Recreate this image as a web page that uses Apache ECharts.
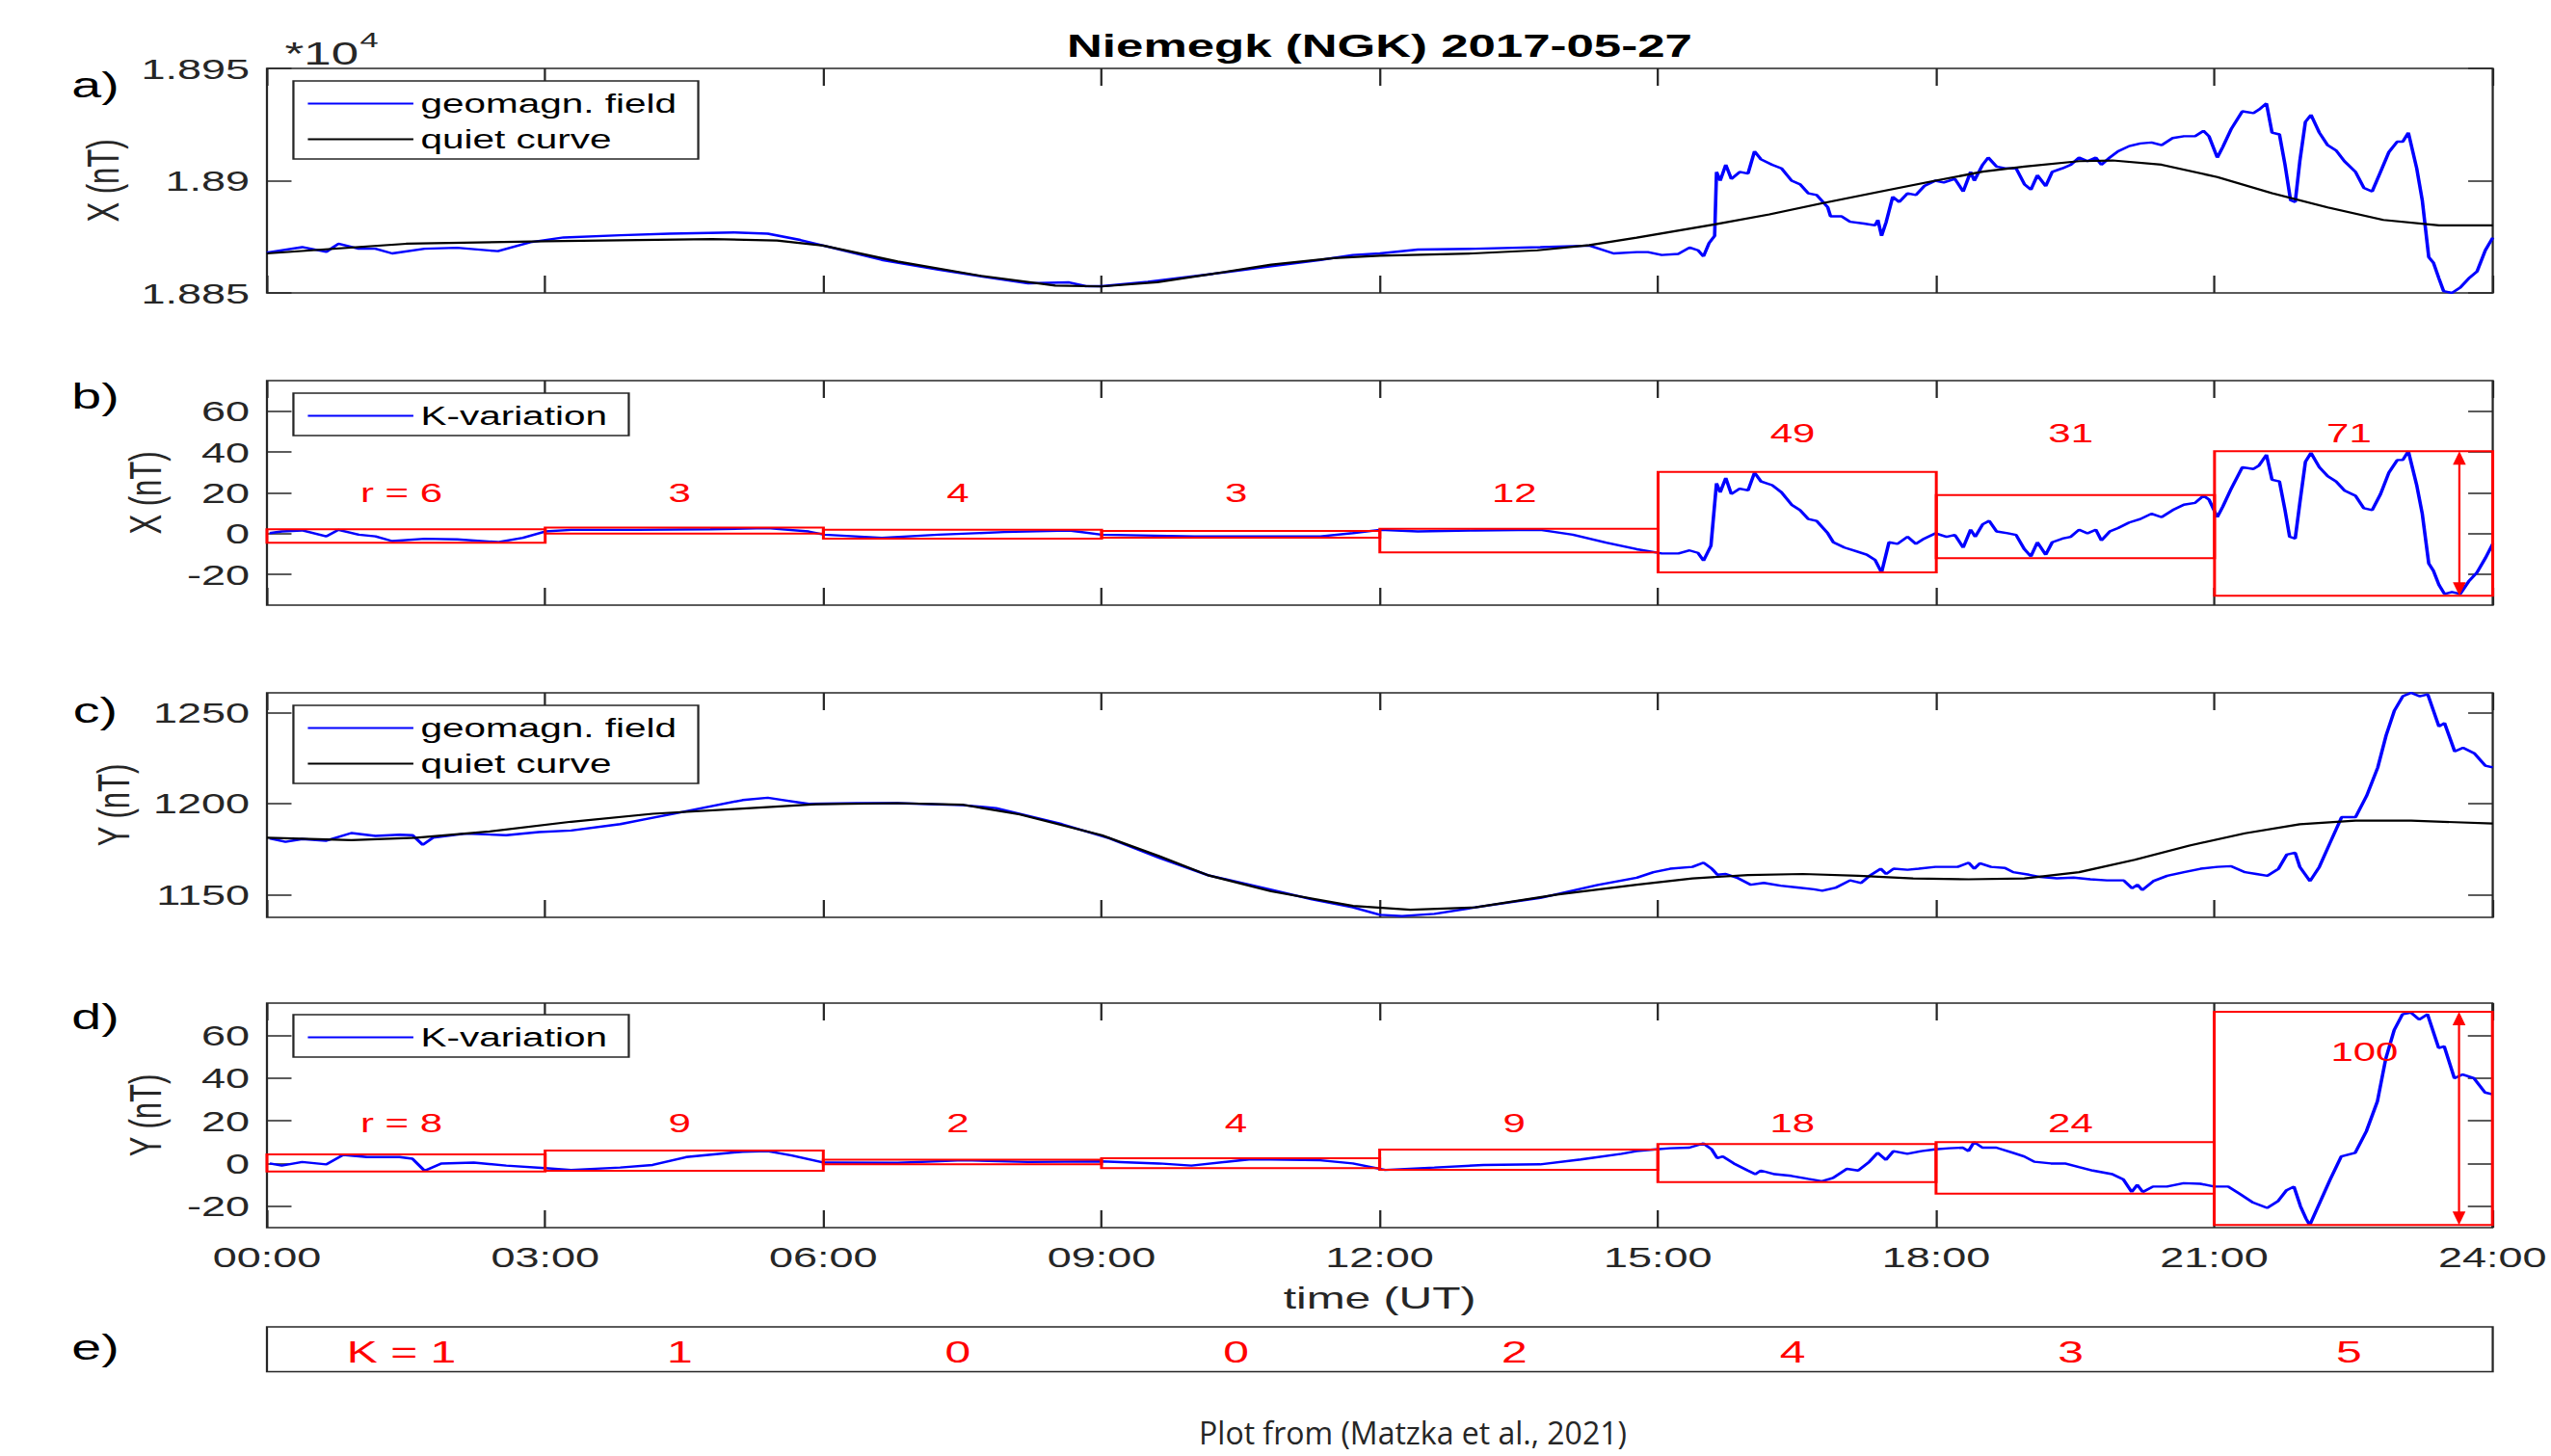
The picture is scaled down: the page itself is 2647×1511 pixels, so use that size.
<!DOCTYPE html>
<html>
<head>
<meta charset="utf-8">
<title>Niemegk (NGK) 2017-05-27</title>
<script src="https://cdn.jsdelivr.net/npm/echarts@6.0.0/dist/echarts.min.js"></script>
<style>
  html, body { margin:0; padding:0; background:#fff; width:2647px; height:1511px; overflow:hidden; }
  #chart { position:absolute; left:0; top:0; width:1765px; height:1511px; transform-origin:0 0; }
</style>
</head>
<body>
<div id="chart"></div>
<script>
// ---------------- DATA ----------------
const timeTickLabels = ['00:00','03:00','06:00','09:00','12:00','15:00','18:00','21:00','24:00'];
const xFieldTicks = [18850, 18900, 18950];          // shown as 1.885 / 1.89 / 1.895 (*10^4)
const kVarTicks = [-20, 0, 20, 40, 60];
const yFieldTicks = [1150, 1200, 1250];
const intervalStart = [0, 3, 6, 9, 12, 15, 18, 21];

// a) X component: geomagnetic field [hour, nT]
const xField = [[0,18868.0],[0.38,18870.4],[0.64,18868.3],[0.77,18871.9],[0.99,18869.7],[1.17,18869.7],[1.35,18867.6],[1.70,18869.7],[2.05,18870.1],[2.49,18868.6],[2.84,18872.6],[3.20,18874.7],[3.81,18875.7],[4.34,18876.4],[5.04,18876.9],[5.40,18876.4],[5.75,18873.6],[6.01,18871.0],[6.63,18864.7],[7.24,18860.4],[7.77,18856.9],[8.21,18854.3],[8.65,18854.7],[8.83,18853.0],[9.00,18853.0],[9.50,18855.0],[10.20,18858.5],[10.83,18861.9],[11.36,18864.7],[11.71,18866.9],[12.00,18867.6],[12.41,18869.3],[13.03,18869.7],[13.73,18870.4],[14.26,18871.1],[14.52,18867.6],
  [14.77,18868.2],[14.89,18868.2],[15.04,18866.9],[15.22,18867.4],[15.34,18870.2],[15.43,18869.0],[15.49,18866.3],[15.55,18872.2],[15.61,18875.4],[15.63,18903.9],[15.67,18900.0],[15.73,18907.1],[15.79,18900.8],[15.88,18903.9],[15.97,18903.2],[16.04,18913.1],[16.11,18909.5],[16.23,18907.1],[16.33,18905.5],[16.44,18900.0],[16.53,18898.4],[16.62,18894.4],[16.71,18893.6],[16.83,18888.1],[16.86,18884.1],[16.98,18884.1],[17.07,18881.7],[17.22,18880.9],[17.34,18880.1],[17.37,18882.5],[17.41,18875.4],[17.46,18881.7],[17.53,18892.8],[17.60,18890.5],[17.69,18894.4],[17.78,18893.6],[17.87,18897.6],[17.99,18900.0],[18.08,18899.2],[18.20,18900.8],[18.29,18895.2],[18.37,18903.9],[18.41,18900.0],[18.50,18907.1],[18.56,18910.3],[18.65,18906.3],[18.74,18905.5],[18.86,18905.5],[18.95,18898.4],[19.02,18896.0],[19.09,18902.4],[19.18,18897.6],[19.25,18903.9],[19.36,18905.5],[19.45,18907.1],[19.54,18910.3],[19.63,18908.7],[19.72,18910.3],[19.78,18907.1],[19.87,18910.3],[19.96,18913.1],[20.08,18915.4],[20.20,18916.6],[20.32,18917.0],[20.43,18915.8],[20.55,18919.0],[20.67,18919.8],[20.79,18919.8],[20.88,18922.2],[20.94,18919.8],[21.03,18910.3],[21.09,18915.1],[21.18,18923.0],[21.30,18930.9],[21.42,18930.1],[21.48,18931.7],[21.56,18934.4],[21.62,18921.4],[21.70,18920.6],[21.76,18907.1],[21.82,18891.3],[21.87,18890.5],[21.92,18908.7],[21.98,18926.2],[22.04,18929.3],[22.13,18921.4],[22.22,18915.8],[22.31,18913.5],[22.40,18908.7],[22.52,18903.9],[22.61,18896.8],[22.70,18895.2],[22.79,18903.9],[22.88,18912.7],[22.97,18917.4],[23.03,18917.4],[23.09,18921.4],[23.18,18905.5],[23.24,18891.3],[23.31,18865.9],[23.36,18863.5],[23.42,18856.4],[23.47,18850.8],[23.56,18850.0],[23.65,18852.4],[23.74,18856.4],[23.83,18859.5],[23.92,18869.0],[24.00,18874.6]];
// a) X component: quiet curve
const xQuiet = [[0,18867.6],[1.5,18871.9],[3,18873.0],[4.8,18874.0],[5.5,18873.3],[6,18871.1],[6.8,18864.0],[7.7,18857.6],[8.5,18853.3],[9,18852.9],[9.6,18854.8],[10.2,18858.5],[10.83,18862.6],[11.5,18865.5],[12,18866.6],[13,18867.6],[13.7,18869.0],[14.26,18871.3],[14.77,18874.6],[15.61,18880.5],[16.2,18885.0],[16.74,18889.7],[17.4,18895.2],[17.99,18900.0],[18.5,18904.0],[18.95,18906.3],[19.54,18908.7],[19.90,18909.0],[20.43,18907.1],[21.03,18901.6],[21.62,18894.4],[22.22,18888.1],[22.82,18882.5],[23.42,18880.1],[24,18880.1]];

// b) X K-variation [hour, nT]
const xKvar = [[0.03,0.3],[0.16,1.1],[0.38,1.6],[0.64,-1.3],[0.77,1.9],[0.99,-0.5],[1.17,-1.3],[1.35,-3.6],[1.70,-2.5],[2.05,-2.8],[2.49,-4.1],[2.76,-2.0],[3.0,1.1],[3.28,1.9],[3.99,1.9],[4.78,2.2],[5.40,2.7],[5.84,1.1],[6.01,-0.5],[6.63,-2.0],[7.24,-0.5],[7.95,0.8],[8.65,1.6],[9.0,-0.5],[10.0,-1.3],[10.83,-1.3],[11.36,-1.3],[11.71,0.3],[12.0,1.9],[12.41,1.1],[13.03,1.6],[13.73,1.9],[14.08,-0.5],[14.44,-4.4],
  [14.77,-7.6],[14.89,-8.5],[15.04,-9.7],[15.22,-9.7],[15.34,-8.2],[15.43,-9.4],[15.49,-13.2],[15.57,-5.9],[15.63,24.7],[15.67,20.3],[15.73,27.3],[15.79,19.4],[15.88,22.1],[15.97,21.2],[16.04,29.9],[16.11,25.6],[16.23,23.8],[16.33,20.3],[16.44,14.2],[16.53,11.6],[16.62,7.2],[16.71,6.3],[16.83,0.2],[16.89,-4.2],[17.01,-6.8],[17.13,-8.5],[17.25,-10.3],[17.34,-12.9],[17.41,-19.0],[17.49,-4.2],[17.58,-5.0],[17.69,-1.5],[17.78,-5.0],[17.87,-2.4],[17.99,0.2],[18.11,-1.5],[18.20,-0.6],[18.29,-6.8],[18.37,2.0],[18.42,-1.5],[18.50,4.6],[18.57,6.3],[18.65,1.1],[18.77,0.2],[18.86,-0.6],[18.95,-7.6],[19.02,-11.1],[19.09,-4.2],[19.18,-10.3],[19.25,-4.2],[19.36,-2.4],[19.45,-1.5],[19.54,2.0],[19.63,0.2],[19.72,2.0],[19.78,-3.3],[19.87,1.1],[19.96,2.8],[20.08,5.5],[20.20,7.2],[20.32,9.8],[20.43,8.1],[20.55,11.6],[20.67,14.2],[20.79,15.1],[20.88,18.6],[20.94,16.8],[21.03,8.1],[21.09,13.3],[21.18,22.1],[21.30,32.6],[21.42,31.7],[21.48,33.4],[21.56,38.7],[21.62,26.4],[21.70,25.6],[21.76,11.6],[21.81,-1.5],[21.87,-2.4],[21.92,15.1],[21.98,35.2],[22.04,39.6],[22.13,32.6],[22.22,28.2],[22.31,25.6],[22.40,21.2],[22.52,18.6],[22.61,12.5],[22.70,11.6],[22.79,19.4],[22.88,29.9],[22.97,36.1],[23.03,36.1],[23.09,40.4],[23.18,23.8],[23.24,9.8],[23.31,-14.6],[23.36,-18.1],[23.42,-25.1],[23.48,-29.5],[23.56,-28.6],[23.65,-29.5],[23.74,-23.4],[23.83,-19.0],[23.92,-12.0],[24.0,-5.0]];
const xBoxMin = [-4.4, 0.0, -2.4, -2.0, -9.1, -19.0, -12.0, -30.4];
const xBoxMax = [2.2, 3.0, 1.9, 1.4, 2.4, 30.3, 18.9, 40.4];
const xRange = [6, 3, 4, 3, 12, 49, 31, 71];

// c) Y component: geomagnetic field [hour, nT]
const yField = [[0.03,1180.8],[0.20,1179.0],[0.38,1180.5],[0.64,1179.6],[0.91,1183.8],[1.17,1182.2],[1.43,1182.9],[1.57,1182.6],[1.68,1177.3],[1.79,1181.2],[2.14,1183.5],[2.58,1182.6],[2.93,1184.3],[3.28,1185.2],[3.81,1188.7],[4.08,1191.4],[4.43,1194.9],[4.78,1198.4],[5.13,1201.9],[5.40,1203.2],[5.57,1201.9],[5.84,1199.8],[6.36,1200.2],[6.80,1200.2],[7.51,1199.1],[7.86,1197.5],[8.57,1188.7],[9.09,1180.8],[9.62,1170.2],[10.15,1160.6],[10.83,1152.6],[11.27,1147.4],[11.71,1143.0],[12.0,1138.9],[12.24,1138.2],[12.59,1139.4],[13.03,1143.0],[13.73,1148.2],[14.35,1155.3],
  [14.77,1159.3],[14.95,1162.3],[15.13,1164.2],[15.37,1165.2],[15.49,1167.5],[15.58,1164.2],[15.64,1160.9],[15.73,1161.3],[15.85,1159.3],[16.00,1155.4],[16.14,1156.4],[16.32,1154.9],[16.50,1153.9],[16.68,1152.9],[16.77,1152.1],[16.92,1153.9],[17.07,1157.8],[17.19,1156.4],[17.28,1160.3],[17.40,1164.2],[17.46,1161.3],[17.54,1164.2],[17.69,1163.6],[17.81,1164.2],[17.99,1165.2],[18.23,1165.2],[18.35,1167.5],[18.41,1164.2],[18.47,1167.2],[18.59,1165.2],[18.74,1164.6],[18.83,1162.3],[19.00,1160.9],[19.12,1159.7],[19.30,1158.9],[19.48,1159.3],[19.66,1158.4],[19.84,1157.8],[20.02,1157.8],[20.11,1153.5],[20.17,1155.4],[20.22,1152.5],[20.34,1157.4],[20.49,1160.3],[20.67,1162.3],[20.85,1164.2],[21.03,1165.2],[21.18,1165.6],[21.33,1162.3],[21.45,1161.3],[21.57,1160.3],[21.69,1164.2],[21.78,1172.0],[21.87,1173.0],[21.92,1165.2],[22.03,1157.4],[22.13,1165.2],[22.25,1178.9],[22.37,1192.5],[22.52,1192.5],[22.64,1204.2],[22.76,1219.8],[22.85,1237.4],[22.94,1251.1],[23.03,1258.9],[23.12,1260.8],[23.21,1258.9],[23.30,1259.9],[23.42,1242.3],[23.48,1244.2],[23.59,1228.6],[23.68,1230.6],[23.80,1227.6],[23.92,1220.8],[24.0,1219.8]];
// c) Y component: quiet curve
const yQuiet = [[0,1181.2],[0.91,1179.9],[1.61,1181.2],[2.40,1184.7],[3.28,1190.0],[4.16,1194.4],[5.04,1197.0],[5.92,1199.6],[6.80,1200.2],[7.51,1199.3],[8.12,1194.0],[9.0,1182.6],[9.62,1171.1],[10.15,1160.6],[10.83,1151.8],[11.71,1143.8],[12.33,1141.7],[13.03,1143.0],[13.91,1150.0],[14.77,1155.4],[15.37,1158.9],[15.97,1160.7],[16.56,1161.3],[17.16,1160.3],[17.75,1158.9],[18.35,1158.4],[18.95,1158.9],[19.54,1162.3],[20.14,1169.1],[20.73,1176.9],[21.33,1183.7],[21.92,1188.6],[22.52,1190.6],[23.12,1190.6],[24.0,1189.0]];

// d) Y K-variation [hour, nT]
const yKvar = [[0.03,0.0],[0.16,-1.0],[0.38,0.7],[0.64,-0.4],[0.82,4.0],[1.08,3.0],[1.43,3.0],[1.57,2.2],[1.70,-3.4],[1.88,0.0],[2.23,0.4],[2.58,-1.0],[3.0,-2.2],[3.28,-3.0],[3.81,-1.9],[4.16,-0.7],[4.52,3.0],[4.87,4.5],[5.13,5.5],[5.40,5.8],[5.66,3.7],[6.01,0.4],[6.80,0.3],[7.51,1.5],[8.21,0.7],[9.0,1.0],[9.62,0.0],[9.97,-1.0],[10.59,1.9],[10.83,1.9],[11.36,1.5],[11.71,0.0],[12.06,-3.0],[12.59,-1.9],[13.12,-0.7],[13.73,-0.4],[14.17,1.9],[14.61,4.5],
  [14.77,5.8],[14.98,6.6],[15.13,7.1],[15.34,7.4],[15.49,9.4],[15.58,6.6],[15.64,2.5],[15.70,3.3],[15.82,0.0],[15.97,-3.3],[16.05,-5.0],[16.11,-3.3],[16.26,-5.0],[16.44,-5.8],[16.62,-7.2],[16.77,-8.3],[16.89,-6.7],[17.04,-2.5],[17.16,-3.3],[17.28,0.8],[17.37,5.0],[17.46,1.7],[17.54,5.8],[17.69,4.5],[17.84,5.8],[17.99,6.6],[18.14,7.1],[18.29,7.4],[18.35,5.8],[18.41,10.0],[18.50,7.4],[18.65,7.4],[18.83,5.0],[18.95,3.3],[19.06,0.8],[19.24,0.0],[19.39,0.0],[19.54,-1.7],[19.69,-3.3],[19.90,-5.0],[20.02,-7.5],[20.11,-13.3],[20.17,-10.0],[20.23,-13.3],[20.34,-10.8],[20.49,-10.8],[20.67,-9.2],[20.85,-9.5],[21.00,-10.8],[21.15,-10.8],[21.27,-14.1],[21.42,-18.3],[21.57,-20.8],[21.69,-17.5],[21.78,-12.5],[21.86,-10.8],[21.93,-20.0],[21.99,-25.8],[22.03,-28.8],[22.13,-19.1],[22.25,-7.5],[22.37,3.3],[22.52,5.0],[22.64,15.0],[22.76,29.1],[22.85,49.0],[22.94,62.3],[23.03,69.8],[23.12,70.6],[23.21,67.3],[23.30,69.8],[23.42,54.0],[23.48,54.8],[23.59,39.9],[23.68,41.6],[23.80,39.9],[23.92,33.2],[24.0,32.4]];
const yBoxMin = [-3.7, -3.4, -0.4, -2.2, -3.0, -8.7, -14.1, -28.8];
const yBoxMax = [4.2, 6.0, 1.8, 2.5, 6.5, 9.1, 10.0, 70.9];
const yRange = [8, 9, 2, 4, 9, 18, 24, 100];

// e) K index per 3-hour interval
const kIndex = [1, 1, 0, 0, 2, 4, 3, 5];

// ---------------- LAYOUT ----------------
const S = 2647 / 1765;                 // horizontal stretch of the original figure
document.getElementById('chart').style.transform = 'scaleX(' + S + ')';
const AX = '#262626';
const FONT = '"Liberation Sans", Arial, Helvetica, sans-serif';
const L = 184.7, W = 1540;
const gridTops = [71, 395, 719, 1041, 1377];
const gridH = [233, 233, 233, 233, 46.6];
const yLim = [[18850, 18950], [-35, 75], [1137.5, 1260.8], [-30, 75], [0, 1]];
const yTickVals = [xFieldTicks, kVarTicks, yFieldTicks, kVarTicks, []];
const yNames = ['X (nT)', 'X (nT)', 'Y (nT)', 'Y (nT)', ''];
const yNameGap = [98, 69, 91, 69, 0];

const grids = [], xAxes = [], yAxes = [];
for (let i = 0; i < 5; i++) {
  const hasTicks = i < 4;
  grids.push({left: L, top: gridTops[i], width: W, height: gridH[i], show: true,
    borderColor: AX, borderWidth: 1.5, backgroundColor: 'transparent'});
  ['bottom', 'top'].forEach(pos => {
    const lab = (i === 3 && pos === 'bottom');
    xAxes.push({
      type: 'value', gridIndex: i, position: pos, min: 0, max: 24, interval: 3,
      axisLine: {show: false, onZero: false},
      axisTick: {show: hasTicks, inside: true, length: 18, lineStyle: {color: AX, width: 1.5}},
      axisLabel: {show: lab, margin: 15, fontSize: 30, fontFamily: FONT, color: AX,
        formatter: v => timeTickLabels[Math.round(v / 3)]},
      splitLine: {show: false},
      name: lab ? 'time (UT)' : '', nameLocation: 'middle', nameGap: 57,
      nameTextStyle: {fontSize: 32, fontFamily: FONT, color: AX}
    });
  });
  ['left', 'right'].forEach(pos => {
    yAxes.push({
      type: 'value', gridIndex: i, position: pos, min: yLim[i][0], max: yLim[i][1],
      axisLine: {show: false, onZero: false},
      axisTick: {show: hasTicks, inside: true, length: 17, customValues: yTickVals[i],
        lineStyle: {color: AX, width: 1.5}},
      axisLabel: {show: hasTicks && pos === 'left', customValues: yTickVals[i], margin: 12,
        fontSize: 30, fontFamily: FONT, color: AX,
        formatter: i === 0 ? (v => String(v / 1e4)) : (v => String(v))},
      splitLine: {show: false},
      name: pos === 'left' ? yNames[i] : '', nameLocation: 'middle', nameGap: yNameGap[i],
      nameTextStyle: {fontSize: 31, fontFamily: FONT, color: AX}
    });
  });
}

function lineSeries(name, gi, data, color, z, w) {
  return {type: 'line', name, xAxisIndex: 2 * gi, yAxisIndex: 2 * gi, data,
    showSymbol: false, symbol: 'none', animation: false, silent: true, z,
    lineStyle: {color, width: w}, itemStyle: {color}};
}
function boxSeries(gi, mins, maxs) {
  return {type: 'custom', xAxisIndex: 2 * gi, yAxisIndex: 2 * gi, silent: true, animation: false, z: 4,
    clip: false, encode: {x: [0, 1], y: [2, 3]},
    data: intervalStart.map((s, i) => [s, s + 3, mins[i], maxs[i]]),
    renderItem: (p, api) => {
      const a = api.coord([api.value(0), api.value(3)]);
      const b = api.coord([api.value(1), api.value(2)]);
      return {type: 'rect', shape: {x: a[0], y: a[1], width: b[0] - a[0], height: b[1] - a[1]},
        style: {fill: 'none', stroke: '#ff0000', lineWidth: 2}};
    }};
}
function textSeries(gi, pts, texts, size) {
  return {type: 'custom', xAxisIndex: 2 * gi, yAxisIndex: 2 * gi, silent: true, animation: false, z: 5,
    clip: false, encode: {x: 0, y: 1}, data: pts,
    renderItem: (p, api) => {
      const c = api.coord([api.value(0), api.value(1)]);
      return {type: 'text', x: c[0], y: c[1],
        style: {text: texts[p.dataIndex], fill: '#ff0000', fontSize: size, fontFamily: FONT,
          align: 'center', verticalAlign: 'middle', textAlign: 'center', textVerticalAlign: 'middle'}};
    }};
}
function arrowSeries(gi, t, lo, hi) {
  return {type: 'custom', xAxisIndex: 2 * gi, yAxisIndex: 2 * gi, silent: true, animation: false, z: 5,
    clip: false, encode: {x: 0, y: [1, 2]}, data: [[t, lo, hi]],
    renderItem: (p, api) => {
      const top = api.coord([api.value(0), api.value(2)]);
      const bot = api.coord([api.value(0), api.value(1)]);
      const x = top[0], hl = 14, hw = 4.5;
      return {type: 'group', children: [
        {type: 'line', shape: {x1: x, y1: top[1] + 6, x2: x, y2: bot[1] - 6}, style: {stroke: '#ff0000', lineWidth: 1.5}},
        {type: 'polygon', shape: {points: [[x, top[1]], [x - hw, top[1] + hl], [x + hw, top[1] + hl]]}, style: {fill: '#ff0000'}},
        {type: 'polygon', shape: {points: [[x, bot[1]], [x - hw, bot[1] - hl], [x + hw, bot[1] - hl]]}, style: {fill: '#ff0000'}}
      ]};
    }};
}

// label placement (layout only)
const labelX = i => intervalStart[i] + 1.45;
const xLabelPts = intervalStart.map((s, i) => [labelX(i), xBoxMax[i] > 15 ? 49 : 20]);
const yLabelPts = intervalStart.map((s, i) => [yBoxMax[i] > 50 ? labelX(i) + 0.17 : labelX(i), yBoxMax[i] > 50 ? 52 : 19]);
const kPts = intervalStart.map((s, i) => [labelX(i), 0.45]);
const xLabelTxt = xRange.map((r, i) => (i === 0 ? 'r = ' : '') + r);
const yLabelTxt = yRange.map((r, i) => (i === 0 ? 'r = ' : '') + r);
const kTxt = kIndex.map((k, i) => (i === 0 ? 'K = ' : '') + k);
const arrowT = 23.64;

const series = [
  lineSeries('geomagn. field', 0, xField, '#0000ff', 2, 2.4),
  lineSeries('quiet curve', 0, xQuiet, '#000000', 3, 2.2),
  lineSeries('K-variation', 1, xKvar, '#0000ff', 2, 2.4),
  boxSeries(1, xBoxMin, xBoxMax),
  textSeries(1, xLabelPts, xLabelTxt, 28),
  arrowSeries(1, arrowT, xBoxMin[7], xBoxMax[7]),
  lineSeries('geomagn. field', 2, yField, '#0000ff', 2, 2.4),
  lineSeries('quiet curve', 2, yQuiet, '#000000', 3, 2.2),
  lineSeries('K-variation', 3, yKvar, '#0000ff', 2, 2.4),
  boxSeries(3, yBoxMin, yBoxMax),
  textSeries(3, yLabelPts, yLabelTxt, 28),
  arrowSeries(3, arrowT, yBoxMin[7], yBoxMax[7]),
  textSeries(4, kPts, kTxt, 32)
];

function mkLegend(top, names) {
  return {data: names, left: 203, top, orient: 'vertical', icon: 'rect', itemWidth: 73, itemHeight: 2, itemGap: 10,
    padding: [10, 15, 7, 10], borderColor: AX, borderWidth: 1.5, backgroundColor: '#fff',
    selectedMode: false, textStyle: {fontSize: 27, fontFamily: FONT, color: '#000', lineHeight: 27}};
}

const letterY = [88, 411, 737, 1055, 1398];
const graphics = [
  {type: 'text', x: 954.5, y: 47, style: {text: 'Niemegk (NGK) 2017-05-27', font: 'bold 34px ' + FONT,
    fill: '#000', textAlign: 'center', textVerticalAlign: 'middle'}},
  {type: 'text', x: 197, y: 55, style: {text: '*10', font: '34px ' + FONT, fill: AX,
    textAlign: 'left', textVerticalAlign: 'middle'}},
  {type: 'text', x: 249, y: 41, style: {text: '4', font: '23px ' + FONT, fill: AX,
    textAlign: 'left', textVerticalAlign: 'middle'}},
  {type: 'text', x: 1466 / S, y: 1487, scaleX: 1 / S, style: {text: 'Plot from (Matzka et al., 2021)',
    font: '32px "Open Sans", sans-serif', fill: '#262626', textAlign: 'center', textVerticalAlign: 'middle'}}
].concat(['a)', 'b)', 'c)', 'd)', 'e)'].map((t, i) => ({type: 'text', x: 66, y: letterY[i],
  style: {text: t, font: '37px ' + FONT, fill: '#000', textAlign: 'center', textVerticalAlign: 'middle'}})));

const chart = echarts.init(document.getElementById('chart'), null, {renderer: 'svg', width: 1765, height: 1511});
chart.setOption({
  animation: false,
  backgroundColor: '#fff',
  grid: grids, xAxis: xAxes, yAxis: yAxes,
  legend: [
    mkLegend(84, ['geomagn. field', 'quiet curve']),
    mkLegend(408, ['K-variation']),
    mkLegend(732, ['geomagn. field', 'quiet curve']),
    mkLegend(1053, ['K-variation'])
  ],
  graphic: graphics,
  series
});
</script>
</body>
</html>
